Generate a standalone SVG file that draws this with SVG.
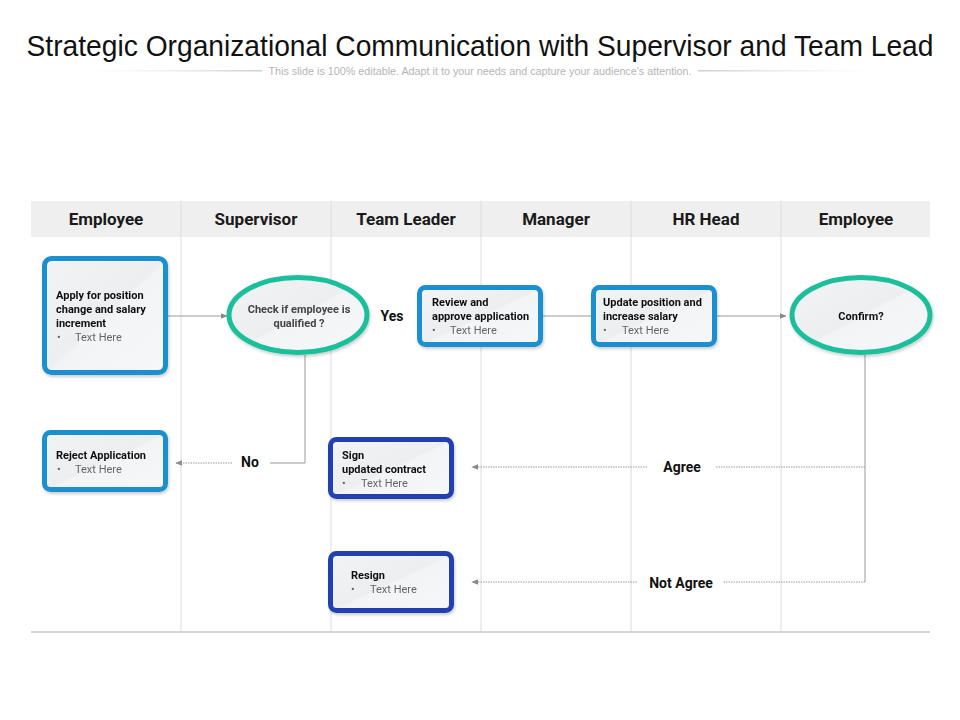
<svg xmlns="http://www.w3.org/2000/svg" width="960" height="720" viewBox="0 0 960 720">
<style>
.title{font-family:"Liberation Sans",Arial,sans-serif;font-size:30px;fill:#111}
.sub{font-family:"Liberation Sans",Arial,sans-serif;font-size:10px;fill:#b5b5b5}
.hd{font-family:"Roboto","Liberation Sans",sans-serif;font-weight:bold;font-size:17px;fill:#1a1a1a;text-anchor:middle}
.lane{stroke:#dcdcdc;stroke-width:1}
.bx{fill:url(#panel);stroke:#1f8fcf;stroke-width:5}
.bx2{fill:url(#panel);stroke:#2340b0;stroke-width:5}
.el{fill:url(#panel);stroke:#1dbf9b;stroke-width:5}
.t{font-family:"Roboto","Liberation Sans",sans-serif;font-weight:bold;font-size:11px;fill:#111}
.tg{font-family:"Roboto","Liberation Sans",sans-serif;font-weight:bold;font-size:11px;fill:#444}
.th{font-family:"Roboto","Liberation Sans",sans-serif;font-size:11px;fill:#666}
.lb{font-family:"Roboto","Liberation Sans",sans-serif;font-weight:bold;font-size:14px;fill:#111;text-anchor:middle}
.c{fill:none;stroke:#9a9a9a;stroke-width:1}
.cd{fill:none;stroke:#9a9a9a;stroke-width:1;stroke-dasharray:1.5 1}
</style>
<defs>
<linearGradient id="panel" x1="0" y1="0" x2="1" y2="1">
<stop offset="0" stop-color="#f2f3f5"/>
<stop offset="0.5" stop-color="#eceef0"/>
<stop offset="0.52" stop-color="#f3f4f6"/>
<stop offset="1" stop-color="#f6f7f8"/>
</linearGradient>
<linearGradient id="fadeL" x1="0" y1="0" x2="1" y2="0">
<stop offset="0" stop-color="#e0e0e0" stop-opacity="0"/>
<stop offset="1" stop-color="#d0d0d0"/>
</linearGradient>
<linearGradient id="fadeR" x1="0" y1="0" x2="1" y2="0">
<stop offset="0" stop-color="#d0d0d0"/>
<stop offset="1" stop-color="#e0e0e0" stop-opacity="0"/>
</linearGradient>
<filter id="sh" x="-10%" y="-10%" width="130%" height="130%">
<feDropShadow dx="1" dy="2" stdDeviation="1.5" flood-color="#000" flood-opacity="0.2"/>
</filter>
<marker id="ar" viewBox="0 0 10 10" refX="9" refY="5" markerWidth="7" markerHeight="7" orient="auto-start-reverse" markerUnits="userSpaceOnUse">
<path d="M0,1 L10,5 L0,9 Z" fill="#8a8a8a"/>
</marker>
</defs>
<rect width="960" height="720" fill="#fff"/>
<text class="title" transform="translate(480,56) scale(0.94,1)" x="0" y="0" text-anchor="middle">Strategic Organizational Communication with Supervisor and Team Lead</text>
<rect x="90" y="70" width="172" height="1.5" fill="url(#fadeL)"/>
<rect x="698" y="70" width="172" height="1.5" fill="url(#fadeR)"/>
<text class="sub" x="480" y="75" text-anchor="middle" textLength="423" lengthAdjust="spacingAndGlyphs">This slide is 100% editable. Adapt it to your needs and capture your audience's attention.</text>

<g id="table">
<rect x="31" y="201" width="899" height="36" fill="#efefef"/>
<line class="lane" x1="181" y1="201" x2="181" y2="632"/>
<line class="lane" x1="331" y1="201" x2="331" y2="632"/>
<line class="lane" x1="481" y1="201" x2="481" y2="632"/>
<line class="lane" x1="631" y1="201" x2="631" y2="632"/>
<line class="lane" x1="781" y1="201" x2="781" y2="632"/>
<line x1="31" y1="632" x2="930" y2="632" stroke="#c8c8c8" stroke-width="1.5"/>
<text class="hd" x="106" y="225">Employee</text>
<text class="hd" x="256" y="225">Supervisor</text>
<text class="hd" x="406" y="225">Team Leader</text>
<text class="hd" x="556" y="225">Manager</text>
<text class="hd" x="706" y="225">HR Head</text>
<text class="hd" x="856" y="225">Employee</text>
</g>

<g id="connectors">
<line class="c" x1="168" y1="316" x2="227" y2="316" marker-end="url(#ar)"/>
<line class="c" x1="542" y1="316" x2="591" y2="316"/>
<line class="c" x1="716" y1="316" x2="786" y2="316" marker-end="url(#ar)"/>
<polyline class="c" points="305,355 305,463 270,463"/>
<line class="cd" x1="232" y1="463" x2="176" y2="463" marker-end="url(#ar)"/>
<polyline class="c" points="865,355 865,582"/>
<line class="cd" x1="865" y1="467" x2="716" y2="467"/>
<line class="cd" x1="647" y1="467" x2="472" y2="467" marker-end="url(#ar)"/>
<line class="cd" x1="865" y1="582" x2="723" y2="582"/>
<line class="cd" x1="637" y1="582" x2="472" y2="582" marker-end="url(#ar)"/>
<text class="lb" x="392" y="321">Yes</text>
<text class="lb" x="250" y="467">No</text>
<text class="lb" x="682" y="472">Agree</text>
<text class="lb" x="681" y="588">Not Agree</text>
</g>

<g id="apply" filter="url(#sh)">
<rect class="bx" x="44.5" y="258.5" width="121" height="114" rx="7"/>
<text class="t" x="56" y="299">Apply for position</text>
<text class="t" x="56" y="313">change and salary</text>
<text class="t" x="56" y="327">increment</text>
<text class="th" x="57" y="341">•</text>
<text class="th" x="75" y="341">Text Here</text>
</g>

<g id="check" filter="url(#sh)">
<ellipse class="el" cx="298" cy="315" rx="69" ry="37.5"/>
<text class="tg" x="299" y="313" text-anchor="middle">Check if employee is</text>
<text class="tg" x="299" y="327" text-anchor="middle">qualified ?</text>
</g>

<g id="review" filter="url(#sh)">
<rect class="bx" x="419.5" y="287.5" width="121" height="57" rx="6"/>
<text class="t" x="432" y="306">Review and</text>
<text class="t" x="432" y="320">approve application</text>
<text class="th" x="432" y="334">•</text>
<text class="th" x="450" y="334">Text Here</text>
</g>

<g id="update" filter="url(#sh)">
<rect class="bx" x="593.5" y="287.5" width="121" height="57" rx="6"/>
<text class="t" x="603" y="306">Update position and</text>
<text class="t" x="603" y="320">increase salary</text>
<text class="th" x="603" y="334">•</text>
<text class="th" x="622" y="334">Text Here</text>
</g>

<g id="confirm" filter="url(#sh)">
<ellipse class="el" cx="861" cy="315" rx="69" ry="37.5"/>
<text class="t" x="861" y="320" text-anchor="middle">Confirm?</text>
</g>

<g id="reject" filter="url(#sh)">
<rect class="bx" x="44.5" y="432.5" width="121" height="57" rx="6"/>
<text class="t" x="56" y="459">Reject Application</text>
<text class="th" x="57" y="473">•</text>
<text class="th" x="75" y="473">Text Here</text>
</g>

<g id="sign" filter="url(#sh)">
<rect class="bx2" x="330.5" y="439.5" width="121" height="57" rx="6"/>
<text class="t" x="342" y="459">Sign</text>
<text class="t" x="342" y="473">updated contract</text>
<text class="th" x="342" y="487">•</text>
<text class="th" x="361" y="487">Text Here</text>
</g>

<g id="resign" filter="url(#sh)">
<rect class="bx2" x="330.5" y="553.5" width="121" height="57" rx="6"/>
<text class="t" x="351" y="579">Resign</text>
<text class="th" x="351" y="593">•</text>
<text class="th" x="370" y="593">Text Here</text>
</g>
</svg>
